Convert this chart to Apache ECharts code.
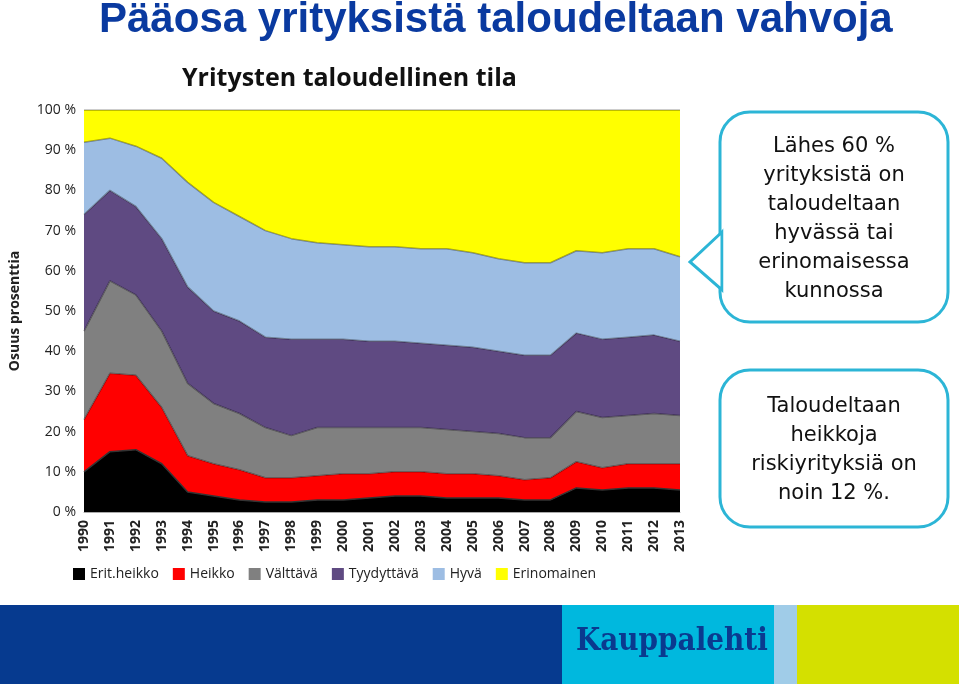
<!DOCTYPE html>
<html><head><meta charset="utf-8">
<script src="https://cdn.jsdelivr.net/npm/echarts@6/dist/echarts.min.js"></script>
<style>html,body{margin:0;padding:0;background:#fff}#c{width:959px;height:684px}</style>
</head><body><div id="c"></div>
<script>
const years = ['1990','1991','1992','1993','1994','1995','1996','1997','1998','1999','2000','2001','2002','2003','2004','2005','2006','2007','2008','2009','2010','2011','2012','2013'];
const seriesNames = ['Erit.heikko','Heikko','Välttävä','Tyydyttävä','Hyvä','Erinomainen'];
// cumulative tops
const topBlack  = [10,15,15.5,12,5,4,3,2.5,2.5,3,3,3.5,4,4,3.5,3.5,3.5,3,3,6,5.5,6,6,5.5];
const topRed    = [23,34.5,34,26,14,12,10.5,8.5,8.5,9,9.5,9.5,10,10,9.5,9.5,9,8,8.5,12.5,11,12,12,12];
const topGray   = [45,57.5,54,45,32,27,24.5,21,19,21,21,21,21,21,20.5,20,19.5,18.5,18.5,25,23.5,24,24.5,24];
const topPurple = [74,80,76,68,56,50,47.5,43.5,43,43,43,42.5,42.5,42,41.5,41,40,39,39,44.5,43,43.5,44,42.5];
const topBlue   = [92,93,91,88,82,77,73.5,70,68,67,66.5,66,66,65.5,65.5,64.5,63,62,62,65,64.5,65.5,65.5,63.5];
const yTicks = ['0 %','10 %','20 %','30 %','40 %','50 %','60 %','70 %','80 %','90 %','100 %'];

const tops = [topBlack, topRed, topGray, topPurple, topBlue, years.map(()=>100)];
const colors = ['#000000','#ff0000','#808080','#5f4a82','#9dbde3','#ffff00'];
const series = tops.map((t,i)=>({
  name: seriesNames[i], type:'line', stack:'all', symbol:'none',
  data: t.map((v,j)=> +(v - (i? tops[i-1][j]:0)).toFixed(2)),
  lineStyle:{width:1.5,color: i===0?'#333':'rgba(0,0,0,0.35)'},
  areaStyle:{color:colors[i],opacity:1},
  itemStyle:{color:colors[i]}
}));
const chart = echarts.init(document.getElementById('c'));
const cyan = '#2cb5d6';
chart.setOption({
  animation:false,
  title:[
    {text:'Pääosa yrityksistä taloudeltaan vahvoja',left:94,top:-6,textStyle:{color:'#0a3aa0',fontSize:42,fontWeight:'bold',fontFamily:'Liberation Sans'}},
    {text:'Yritysten taloudellinen tila',left:177,top:61,textStyle:{color:'#111',fontSize:25,fontWeight:'bold',fontFamily:'Open Sans'}}
  ],
  legend:{bottom:98,left:68,itemWidth:12,itemHeight:12,itemGap:14,icon:'rect',
    textStyle:{fontSize:14,color:'#222',fontFamily:'Open Sans'},data:seriesNames},
  grid:{left:83,right:279,top:110,bottom:172},
  xAxis:{type:'category',data:years,boundaryGap:false,
    axisLine:{lineStyle:{color:'#aaa'}},axisTick:{show:false},
    axisLabel:{rotate:90,fontSize:14,fontWeight:'bold',color:'#222',fontFamily:'Open Sans',margin:8,interval:0}},
  yAxis:{type:'value',min:0,max:100,interval:10,name:'Osuus prosenttia',nameLocation:'middle',nameGap:62,
    nameTextStyle:{fontSize:14,fontWeight:'bold',color:'#222',fontFamily:'Open Sans'},
    axisLabel:{formatter:(v)=>yTicks[v/10],fontSize:14,color:'#222',fontFamily:'Open Sans'},
    splitLine:{show:false},axisLine:{show:false}},
  series,
  graphic:[
    {type:'rect',shape:{x:0,y:605,width:562,height:79},style:{fill:'#063a8f'}},
    {type:'rect',shape:{x:562,y:605,width:212,height:79},style:{fill:'#00b8de'}},
    {type:'rect',shape:{x:774,y:605,width:23,height:79},style:{fill:'#a0cce8'}},
    {type:'rect',shape:{x:797,y:605,width:162,height:79},style:{fill:'#d4e000'}},
    {type:'text',left:576,top:626,style:{text:'Kauppalehti',fill:'#0a3a8f',font:'bold 31px "DejaVu Serif Condensed"'}},
    {type:'rect',shape:{x:720,y:112,width:228,height:210,r:30},style:{fill:'#fff',stroke:cyan,lineWidth:3}},
    {type:'polygon',shape:{points:[[722,232],[690,262],[722,290]]},style:{fill:'#fff',stroke:cyan,lineWidth:3}},
    {type:'rect',shape:{x:723.5,y:229,width:6,height:64},style:{fill:'#fff'}},
    {type:'text',x:834,y:219,style:{text:'Lähes 60 %\nyrityksistä on\ntaloudeltaan\nhyvässä tai\nerinomaisessa\nkunnossa',align:'center',verticalAlign:'middle',fill:'#111',font:'21px "DejaVu Sans"',lineHeight:29}},
    {type:'rect',shape:{x:720,y:370,width:228,height:157,r:30},style:{fill:'#fff',stroke:cyan,lineWidth:3}},
    {type:'text',x:834,y:450,style:{text:'Taloudeltaan\nheikkoja\nriskiyrityksiä on\nnoin 12 %.',align:'center',verticalAlign:'middle',fill:'#111',font:'21px "DejaVu Sans"',lineHeight:29}}
  ]
});
</script></body></html>
